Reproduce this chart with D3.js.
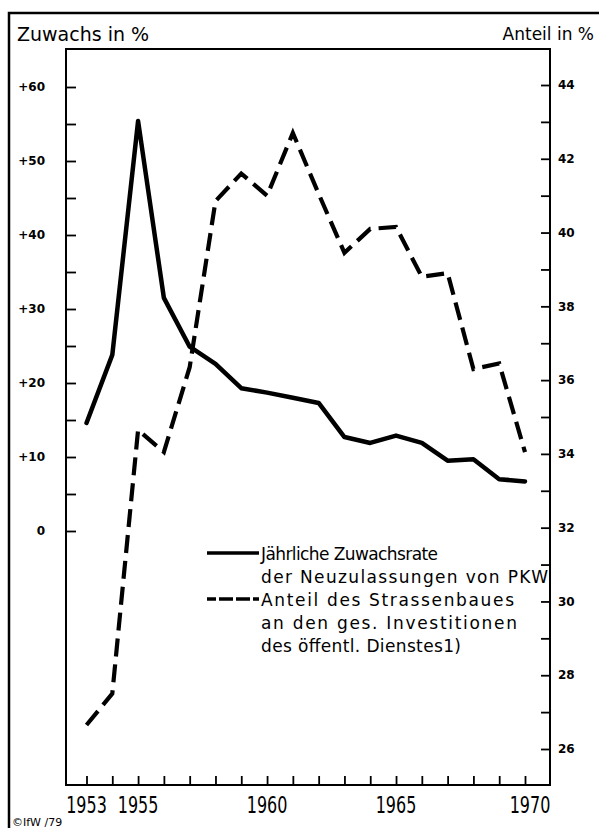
<!DOCTYPE html>
<html>
<head>
<meta charset="utf-8">
<script src="https://cdn.jsdelivr.net/npm/d3@7/dist/d3.min.js"></script>
<style>
  html, body { margin: 0; padding: 0; background: #fff; }
  svg { display: block; }
</style>
</head>
<body>
<script>
// ---- data ----
const years = [1953,1954,1955,1956,1957,1958,1959,1960,1961,1962,1963,1964,1965,1966,1967,1968,1969,1970];
const zuwachs = [14.6,23.8,55.4,31.5,24.9,22.6,19.3,18.7,18.0,17.3,12.7,11.9,12.9,11.9,9.5,9.7,7.0,6.7];
const anteil = [26.65,27.5,34.65,34.05,36.35,40.85,41.6,41.0,42.7,41.05,39.45,40.1,40.15,38.8,38.9,36.3,36.45,34.05];
const leftTickValues = [0,5,10,15,20,25,30,35,40,45,50,55,60];
const leftLabelValues = [0,10,20,30,40,50,60];
const rightTickValues = [26,27,28,29,30,31,32,33,34,35,36,37,38,39,40,41,42,43,44];
const rightLabelValues = [26,28,30,32,34,36,38,40,42,44];
const yearLabelValues = [1953,1955,1960,1965,1970];
const legendSolid = ["Jährliche Zuwachsrate", "der Neuzulassungen von PKW"];
const legendDashed = ["Anteil des Strassenbaues", "an den ges. Investitionen", "des öffentl. Dienstes1)"];

const W = 599, H = 828;
const plot = {left: 66, right: 550, top: 49, bottom: 785};
// rendered widths of the legend lines as they appear in the reference
const legendWidths = [177, 287, 253, 256, 200];

const svg = d3.select("body").append("svg").attr("width", W).attr("height", H);

const x = d3.scaleLinear().domain([1953, 1970]).range([86.5, 525]);
const yL = d3.scaleLinear().domain([0, 60]).range([531, 87]);
const yR = d3.scaleLinear().domain([26, 44]).range([749, 85]);

// outer frame
svg.append("path")
  .attr("d", `M9,${H} L9,13 L${W},13`)
  .attr("fill", "none").attr("stroke", "#000").attr("stroke-width", 2.5);

// inner frame
svg.append("rect")
  .attr("x", plot.left).attr("y", plot.top)
  .attr("width", plot.right - plot.left).attr("height", plot.bottom - plot.top)
  .attr("fill", "none").attr("stroke", "#000").attr("stroke-width", 2);

// titles
svg.append("text").attr("x", 17).attr("y", 41)
  .attr("font-family", "DejaVu Sans").attr("font-size", 19).text("Zuwachs in %");
svg.append("text").attr("x", 594).attr("y", 40).attr("text-anchor", "end")
  .attr("font-family", "DejaVu Sans").attr("font-size", 17).text("Anteil in %");

// left axis (ticks inward)
const leftAxis = d3.axisRight(yL).tickValues(leftTickValues).tickSize(10).tickFormat("");
svg.append("g").attr("transform", `translate(${plot.left},0)`).call(leftAxis)
  .call(g => g.select(".domain").remove())
  .call(g => g.selectAll("line").attr("stroke-width", 1.8));
svg.append("g").selectAll("text").data(leftLabelValues).join("text")
  .attr("x", 45).attr("y", d => yL(d)).attr("dy", "0.35em")
  .attr("text-anchor", "end")
  .attr("font-family", "DejaVu Sans").attr("font-weight", "bold").attr("font-size", 12)
  .text(d => d === 0 ? "0" : "+" + d);

// right axis (ticks inward)
const rightAxis = d3.axisLeft(yR).tickValues(rightTickValues).tickSize(9).tickFormat("");
svg.append("g").attr("transform", `translate(${plot.right},0)`).call(rightAxis)
  .call(g => g.select(".domain").remove())
  .call(g => g.selectAll("line").attr("stroke-width", 1.8));
svg.append("g").selectAll("text").data(rightLabelValues).join("text")
  .attr("x", 558).attr("y", d => yR(d)).attr("dy", "0.35em")
  .attr("font-family", "DejaVu Sans").attr("font-weight", "bold").attr("font-size", 12)
  .text(d => d);

// bottom axis (ticks inward)
const bottomAxis = d3.axisTop(x).tickValues(years).tickSize(9).tickFormat("");
svg.append("g").attr("transform", `translate(0,${plot.bottom})`).call(bottomAxis)
  .call(g => g.select(".domain").remove())
  .call(g => g.selectAll("line").attr("stroke-width", 1.8));
svg.append("g").selectAll("text").data(yearLabelValues).join("text")
  .attr("transform", d => `translate(${x(d) + (d === 1970 ? 5 : 0)},813) scale(1,1.4)`)
  .attr("text-anchor", "middle")
  .attr("font-family", "DejaVu Sans")
  .attr("font-size", 16)
  .text(d => d);

// lines
const lineL = d3.line().x((d, i) => x(years[i])).y(d => yL(d));
const lineR = d3.line().x((d, i) => x(years[i])).y(d => yR(d));

svg.append("path").datum(anteil).attr("d", lineR)
  .attr("fill", "none").attr("stroke", "#000").attr("stroke-width", 4.2)
  .attr("stroke-dasharray", "18,8").attr("stroke-linejoin", "miter");

svg.append("path").datum(zuwachs).attr("d", lineL)
  .attr("fill", "none").attr("stroke", "#000").attr("stroke-width", 4.5)
  .attr("stroke-linejoin", "round").attr("stroke-linecap", "round");

// legend
const lg = svg.append("g").attr("font-family", "DejaVu Sans").attr("font-size", 17);
lg.append("line").attr("x1", 207).attr("x2", 259).attr("y1", 553).attr("y2", 553)
  .attr("stroke", "#000").attr("stroke-width", 3.5);
lg.append("line").attr("x1", 207).attr("x2", 259).attr("y1", 599).attr("y2", 599)
  .attr("stroke", "#000").attr("stroke-width", 3.5).attr("stroke-dasharray", "9,3,14,3,14,3");
legendSolid.forEach((t, i) => {
  lg.append("text").attr("x", 261).attr("y", 560 + i * 23)
    .attr("textLength", legendWidths[i]).attr("lengthAdjust", "spacing").text(t);
});
legendDashed.forEach((t, i) => {
  lg.append("text").attr("x", 261).attr("y", 606 + i * 23)
    .attr("textLength", legendWidths[i + 2]).attr("lengthAdjust", "spacing").text(t);
});

// source note at the bottom edge
svg.append("text").attr("x", 12).attr("y", 826)
  .attr("font-family", "DejaVu Sans").attr("font-size", 11).text("©IfW /79");
</script>
</body>
</html>
